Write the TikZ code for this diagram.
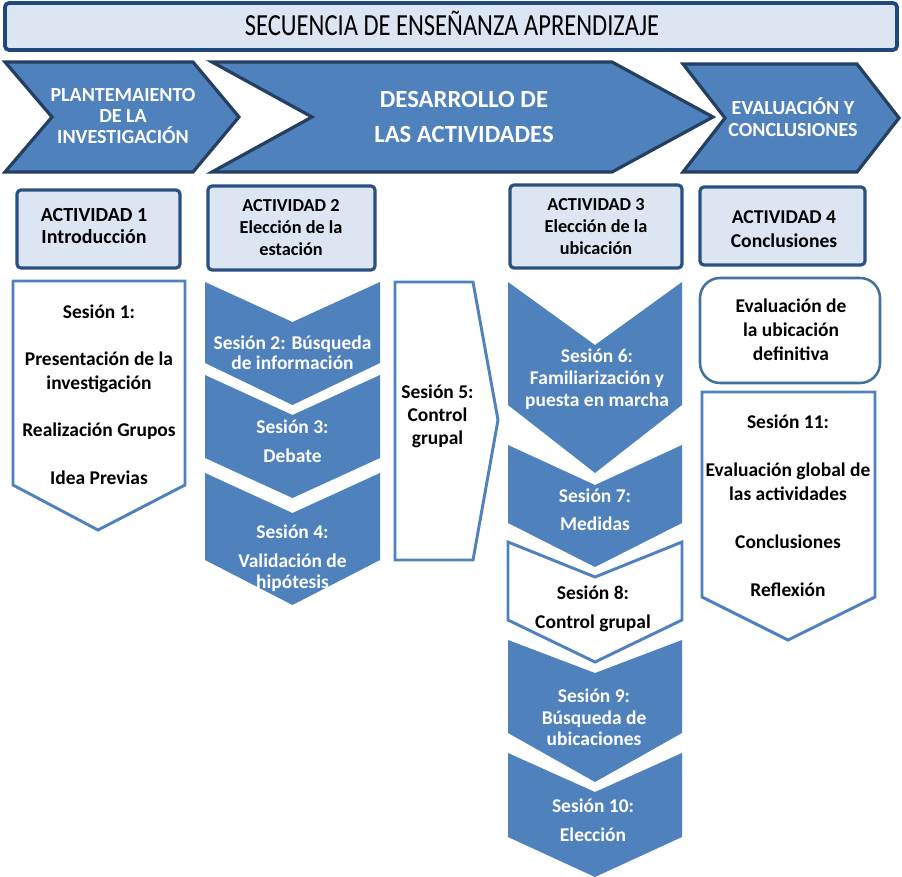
\documentclass[tikz,border=0pt]{standalone}
\usepackage{fontspec}
\usepackage{graphicx}
\setmainfont{Carlito}
\definecolor{chev}{HTML}{4F81BD}
\definecolor{chevline}{HTML}{243F60}
\definecolor{lightbg}{HTML}{DCE6F2}
\definecolor{navy}{HTML}{1F497D}
\definecolor{actline}{HTML}{2A5082}
\definecolor{evalline}{HTML}{41719C}
\begin{document}
\begin{tikzpicture}[x=0.75pt,y=-0.75pt,line join=miter,
  bigchev/.style={fill=chev,draw=chevline,line width=2.4pt},
  titlebox/.style={fill=lightbg,draw=navy,line width=2.8pt,rounded corners=3pt},
  actbox/.style={fill=lightbg,draw=actline,line width=2.4pt,rounded corners=3pt},
  evalbox/.style={fill=white,draw=evalline,line width=1.9pt,rounded corners=15pt},
  sessout/.style={fill=white,draw=chev,line width=2.2pt},
  sessfill/.style={fill=chev},
  fs/.style 2 args={font=\bfseries\fontsize{#1}{#2}\selectfont},
  txt/.style={align=center,inner sep=0pt,text=black},
  wtxt/.style={align=center,inner sep=0pt,text=white}]
\useasboundingbox (0,0) rectangle (902,877);

% title
\draw[titlebox] (5,3) rectangle (897,50);
\node[inner sep=0pt,anchor=base,font=\fontsize{23}{23}\selectfont] (title) at (452,36)
  {\scalebox{0.8}[1]{SECUENCIA DE ENSEÑANZA APRENDIZAJE}};

% phase chevrons
\path[bigchev] (5,62) -- (193,62) -- (239,117) -- (193,172) -- (5,172) -- (52,117) -- cycle;
\path[bigchev] (212,62) -- (612,62) -- (713,117) -- (612,172) -- (212,172) -- (312,117) -- cycle;
\path[bigchev] (683,64) -- (857,64) -- (899,118) -- (857,172) -- (683,172) -- (725,118) -- cycle;
\node[wtxt,fs={15}{16.1}] (ph1) at (123,116) {PLANTEMAIENTO\\DE LA\\INVESTIGACIÓN};
\node[wtxt,fs={18.5}{26.25}] (ph2) at (464,116.5) {DESARROLLO DE\\LAS ACTIVIDADES};
\node[wtxt,fs={15}{16.5}] (ph3) at (793,117) {EVALUACIÓN Y\\CONCLUSIONES};

% activity boxes
\draw[actbox] (17,190) rectangle (180,268);
\draw[actbox] (208,186) rectangle (375,270);
\draw[actbox] (510,185) rectangle (682,268);
\draw[actbox] (700,187) rectangle (865,265);
\node[txt,fs={15}{16.5}] (a1) at (94,226) {ACTIVIDAD 1\\Introducción};
\node[txt,fs={13.7}{16.5}] (a2) at (291,227.6) {ACTIVIDAD 2\\Elección de la\\estación};
\node[txt,fs={13.7}{16.5}] (a3) at (596,226.6) {ACTIVIDAD 3\\Elección de la\\ubicación};
\node[txt,fs={14.7}{18}] (a4) at (784,228.7) {ACTIVIDAD 4\\Conclusiones};

% column 1
\path[sessout] (13,281) -- (185,281) -- (185,485) -- (98,530) -- (13,485) -- cycle;
\node[txt,fs={14.6}{17.6}] (s1) at (99,394.6)
  {Sesión 1:\\[18pt]Presentación de la\\investigación\\[18pt]Realización Grupos\\[18pt]Idea Previas};

% column 2
\path[sessfill] (205,282) -- (292.5,322) -- (380,282) -- (380,363) -- (292.5,405) -- (205,363) -- cycle;
\path[sessfill] (205,375) -- (292.5,415) -- (380,375) -- (380,458) -- (292.5,498) -- (205,458) -- cycle;
\path[sessfill] (205,473) -- (292.5,513) -- (380,473) -- (380,560) -- (292.5,605) -- (205,560) -- cycle;
\node[wtxt,fs={14.6}{15}] (s2) at (292.5,353) {Sesión 2: Búsqueda\\de información};
\node[wtxt,fs={14.6}{21.75}] (s3) at (292.5,441.6) {Sesión 3:\\Debate};
\node[wtxt,fs={14.6}{15.75}] (s4) at (292.5,558.6) {Sesión 4:\\[6pt]Validación de\\hipótesis};

% session 5
\path[sessout] (395,282) -- (473,282) -- (498,420) -- (473,560) -- (395,560) -- cycle;
\node[txt,fs={14.6}{17.25}] (s5) at (437.5,416.6) {Sesión 5:\\Control\\grupal};

% column 3
\path[sessfill] (508,282) -- (595,345) -- (682,282) -- (682,405) -- (595,473) -- (508,405) -- cycle;
\path[sessfill] (508,445) -- (595,485) -- (682,445) -- (682,523) -- (595,567) -- (508,523) -- cycle;
\path[sessout] (508,542) -- (595,577) -- (682,542) -- (682,620) -- (595,662) -- (508,620) -- cycle;
\path[sessfill] (508,640) -- (595,673) -- (682,640) -- (682,733) -- (595,782) -- (508,733) -- cycle;
\path[sessfill] (508,753) -- (595,792) -- (682,753) -- (682,837) -- (595,877) -- (508,837) -- cycle;
\node[wtxt,fs={14.6}{16.5}] (s6) at (597,379.6) {Sesión 6:\\Familiarización y\\puesta en marcha};
\node[wtxt,fs={14.6}{21}] (s7) at (595,510) {Sesión 7:\\Medidas};
\node[txt,fs={14.6}{21.75}] (s8) at (593,609) {Sesión 8:\\Control grupal};
\node[wtxt,fs={14.6}{16.1}] (s9) at (594,717.6) {Sesión 9:\\Búsqueda de\\ubicaciones};
\node[wtxt,fs={14.6}{21.75}] (s10) at (593,820.6) {Sesión 10:\\Elección};

% column 4
\draw[evalbox] (700,278) rectangle (880,383);
\node[txt,fs={14.6}{18}] (ev) at (791,330) {Evaluación de\\la ubicación\\definitiva};
\path[sessout] (702,392) -- (875,392) -- (875,597) -- (788,640) -- (702,597) -- cycle;
\node[txt,fs={14.6}{18}] (s11) at (788,505.6)
  {Sesión 11:\\[18pt]Evaluación global de\\las actividades\\[18pt]Conclusiones\\[18pt]Reflexión};
\end{tikzpicture}
\end{document}
